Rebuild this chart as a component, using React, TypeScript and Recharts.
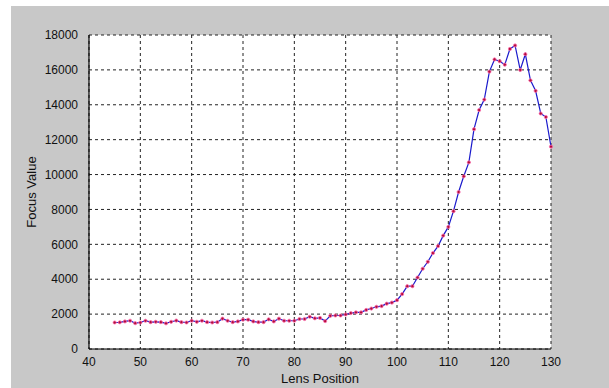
import {
  CartesianGrid,
  Label,
  Line,
  LineChart,
  XAxis,
  YAxis,
} from "recharts";

// lens positions 45..130, one reading per step
const lensPositions = [
  45, 46, 47, 48, 49, 50, 51, 52, 53, 54, 55, 56, 57, 58, 59, 60, 61, 62, 63,
  64, 65, 66, 67, 68, 69, 70, 71, 72, 73, 74, 75, 76, 77, 78, 79, 80, 81, 82,
  83, 84, 85, 86, 87, 88, 89, 90, 91, 92, 93, 94, 95, 96, 97, 98, 99, 100, 101,
  102, 103, 104, 105, 106, 107, 108, 109, 110, 111, 112, 113, 114, 115, 116,
  117, 118, 119, 120, 121, 122, 123, 124, 125, 126, 127, 128, 129, 130,
];

const focusValues = [
  1520, 1530, 1580, 1620, 1480, 1520, 1620, 1540, 1560, 1540, 1470, 1560, 1630,
  1540, 1520, 1620, 1560, 1620, 1540, 1520, 1540, 1740, 1620, 1540, 1580, 1680,
  1680, 1580, 1540, 1540, 1700, 1580, 1740, 1620, 1620, 1620, 1720, 1720, 1850,
  1760, 1780, 1600, 1900, 1920, 1920, 1980, 2060, 2100, 2100, 2240, 2320, 2420,
  2460, 2600, 2660, 2800, 3150, 3600, 3600, 4100, 4600, 5000, 5500, 5900, 6500,
  7000, 7900, 9000, 9900, 10700, 12600, 13700, 14300, 15900, 16600, 16500,
  16300, 17200, 17400, 16000, 16900, 15400, 14800, 13500, 13300, 11600,
];

const xTicks = [40, 50, 60, 70, 80, 90, 100, 110, 120, 130];
const yTicks = [0, 2000, 4000, 6000, 8000, 10000, 12000, 14000, 16000, 18000];

const data = lensPositions.map((pos, i) => ({ pos, value: focusValues[i] }));

const tickStyle = { fontSize: 12, fill: "#111", fontFamily: "Liberation Sans" };
const labelStyle = { fontSize: 13, fill: "#111", fontFamily: "Liberation Sans" };

const App = () => (
  <div
    style={{
      position: "absolute",
      left: 0,
      top: 0,
      width: 609,
      height: 388,
      background: "#fff",
      fontFamily: "Liberation Sans",
    }}
  >
    <div
      style={{
        position: "absolute",
        left: 11,
        top: 6,
        width: 598,
        height: 382,
        background: "#c8c8c8",
      }}
    />
    <div style={{ position: "absolute", left: 0, top: 0 }}>
      <LineChart
        width={609}
        height={388}
        data={data}
        margin={{ top: 35, right: 58, bottom: 1, left: 29 }}
      >
        <CartesianGrid
          stroke="#222"
          strokeDasharray="3 3"
          fill="#fff"
          fillOpacity={1}
        />
        <XAxis
          dataKey="pos"
          type="number"
          domain={[40, 130]}
          ticks={xTicks}
          tick={tickStyle}
          tickLine={false}
          axisLine={{ stroke: "#000", strokeWidth: 1.2 }}
          height={38}
          tickMargin={2}
        >
          <Label value="Lens Position" position="insideBottom" offset={4} style={labelStyle} />
        </XAxis>
        <XAxis
          xAxisId="top"
          orientation="top"
          type="number"
          domain={[40, 130]}
          ticks={xTicks}
          tick={false}
          tickLine={false}
          height={0}
          axisLine={{ stroke: "#333", strokeWidth: 1.2 }}
        />
        <YAxis
          type="number"
          domain={[0, 18000]}
          ticks={yTicks}
          tick={tickStyle}
          tickLine={false}
          axisLine={{ stroke: "#000", strokeWidth: 1.2 }}
          width={60}
          tickMargin={5}
          interval={0}
        >
          <Label
            value="Focus Value"
            angle={-90}
            position="insideLeft"
            offset={2}
            style={{ ...labelStyle, textAnchor: "middle" }}
          />
        </YAxis>
        <YAxis
          yAxisId="right"
          orientation="right"
          type="number"
          domain={[0, 18000]}
          tick={false}
          tickLine={false}
          width={0}
          axisLine={{ stroke: "#333", strokeWidth: 1.2 }}
        />
        <Line
          type="linear"
          dataKey="value"
          stroke="#1a1acc"
          strokeWidth={1.2}
          dot={{ r: 1.6, fill: "#b0103a", stroke: "#ff6fb0", strokeWidth: 0.8 }}
          isAnimationActive={false}
        />
      </LineChart>
    </div>
  </div>
);

export default App;
